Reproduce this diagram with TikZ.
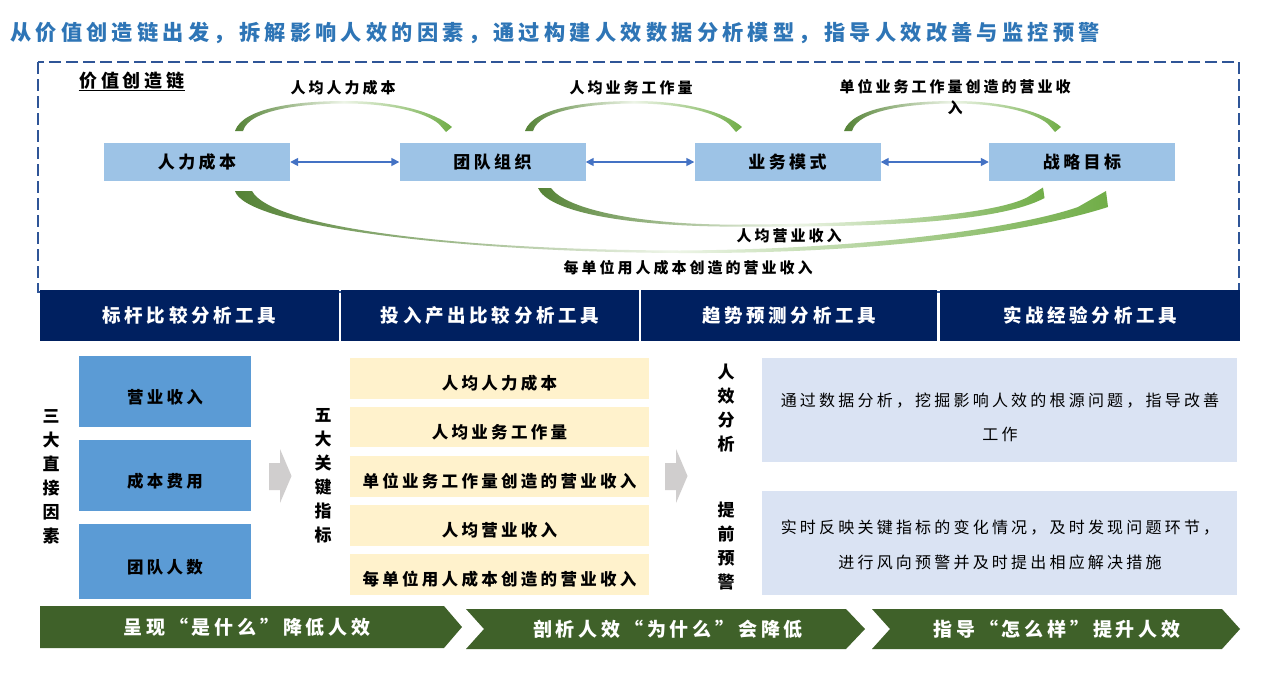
\documentclass[tikz,border=0pt]{standalone}
\usepackage{fontspec}
\usetikzlibrary{arrows.meta}
\setmainfont{Noto Sans CJK SC}[LetterSpace=20]
\newfontfamily\medfont{Noto Sans CJK SC Medium}[LetterSpace=20]
\newcommand{\fsz}[2]{\fontsize{#1}{#2}\selectfont}
\definecolor{titleblue}{HTML}{2E75B6}
\definecolor{framecol}{HTML}{2F5597}
\definecolor{topblue}{HTML}{9DC3E6}
\definecolor{arrowblue}{HTML}{4472C4}
\definecolor{navy}{HTML}{002060}
\definecolor{lblue}{HTML}{5B9BD5}
\definecolor{ycol}{HTML}{FFF2CC}
\definecolor{rcol}{HTML}{DAE3F3}
\definecolor{chevcol}{HTML}{3F6129}
\definecolor{grayarr}{HTML}{D0CECE}
\definecolor{gdark}{HTML}{548235}
\definecolor{glight}{HTML}{70AD47}
\definecolor{gpale}{HTML}{EEF5E8}
\newcommand{\greenarc}[1]{%
  \begin{scope}[xshift=#1pt]
    \shade[arcshade] (0,131) .. controls (8,107) and (65,101) .. (110,101)
      .. controls (160,101) and (200,112) .. (217,127) -- (211,132) -- (204,124)
      .. controls (190,112) and (155,103.5) .. (110,103.5)
      .. controls (70,103.5) and (14,109) .. (8,131) -- cycle;
  \end{scope}}
\begin{document}
\begin{tikzpicture}[x=1pt,y=-1pt,
  arcshade/.style={left color=gdark, right color=glight, middle color=gpale},
  topbox/.style={fill=topblue, minimum width=186pt, minimum height=38pt, inner sep=0pt, font=\bfseries\fsz{17}{20}},
  dblarrow/.style={{Triangle[length=8pt,width=8pt]}-{Triangle[length=8pt,width=8pt]}, draw=arrowblue, line width=1.6pt},
  lbl/.style={font=\bfseries\fsz{15}{18}, inner sep=0pt},
  hdr/.style={fill=navy, text=white, minimum height=51pt, inner sep=0pt, font=\bfseries\fsz{18.5}{20}},
  lbox/.style={fill=lblue, minimum width=172pt, inner sep=0pt},
  ybox/.style={fill=ycol, minimum width=299pt, inner sep=0pt},
  rbox/.style={fill=rcol, minimum width=475pt, minimum height=104pt, inner sep=0pt},
  boxtxt/.style={font=\bfseries\fsz{16.5}{20}, inner sep=0pt},
  vtxt/.style={align=center, font=\bfseries\fsz{17}{24}, inner sep=0pt},
  rtxt/.style={align=center, inner sep=0pt},
  grayshape/.style={fill=grayarr},
  chev/.style={fill=chevcol},
  chevtxt/.style={text=white, font=\bfseries\fsz{19}{22}, inner sep=0pt}
]
\fill[white] (0,0) rectangle (1283,678);
\useasboundingbox (0,0) rectangle (1283,678);

% title
\node[anchor=west, inner sep=0pt, text=titleblue, font=\bfseries\fsz{21.2}{24}] (title) at (10,33) {从价值创造链出发，拆解影响人效的因素，通过构建人效数据分析模型，指导人效改善与监控预警};

% dashed frame
\draw[framecol, line width=1.4pt, dash pattern=on 12pt off 5pt] (38,62) rectangle (1239,292);

\node[font=\bfseries\fsz{18}{20}, inner sep=1pt] (vc) at (132,81) {价值创造链};
\draw[line width=0.8pt] (vc.south west) -- (vc.south east);

% top boxes
\node[topbox] (b1) at (197,162) {人力成本};
\node[topbox] (b2) at (492.5,162) {团队组织};
\node[topbox] (b3) at (787.5,162) {业务模式};
\node[topbox] (b4) at (1082,162) {战略目标};
\draw[dblarrow] (b1) -- (b2);
\draw[dblarrow] (b2) -- (b3);
\draw[dblarrow] (b3) -- (b4);

% top green arcs
\greenarc{235}
\greenarc{525}
\greenarc{844}
\node[lbl] (t1) at (343,88) {人均人力成本};
\node[lbl] (t2) at (631,88) {人均业务工作量};
\node[lbl] (t3) at (955,87) {单位业务工作量创造的营业收};
\node[lbl] (t3b) at (955,108) {入};

% bottom green arcs
\shade[arcshade] (538,188) .. controls (548,211) and (620,225) .. (720,226.5)
  .. controls (880,228) and (1000,222) .. (1044.5,198) -- (1043,187.5) -- (1027,197.5)
  .. controls (995,214) and (880,225) .. (720,224.5)
  .. controls (630,223) and (565,208) .. (551,188) -- cycle;
\shade[arcshade] (235,191) .. controls (245,225) and (450,252) .. (680,253)
  .. controls (880,254) and (1030,232) .. (1108,207) -- (1106,191) -- (1078,207)
  .. controls (1030,224) and (890,249) .. (680,250.5)
  .. controls (460,250) and (272,228) .. (252,191) -- cycle;
\node[lbl] (t4) at (789,236) {人均营业收入};
\node[lbl] (t5) at (688,268) {每单位用人成本创造的营业收入};

% header bar
\node[hdr, minimum width=299pt] (h1) at (189.5,315.5) {标杆比较分析工具};
\node[hdr, minimum width=298pt] (h2) at (490,315.5) {投入产出比较分析工具};
\node[hdr, minimum width=296pt] (h3) at (789,315.5) {趋势预测分析工具};
\node[hdr, minimum width=300pt] (h4) at (1090,315.5) {实战经验分析工具};

% left column
\node[vtxt] (v1) at (51,477) {三\\大\\直\\接\\因\\素};
\node[lbox, minimum height=71pt] (l1) at (165,391.5) {};
\node[lbox, minimum height=71pt] (l2) at (165,475.5) {};
\node[lbox, minimum height=75pt] (l3) at (165,561.5) {};
\node[boxtxt] (l1t) at ([yshift=-6pt]l1.center) {营业收入};
\node[boxtxt] (l2t) at ([yshift=-6pt]l2.center) {成本费用};
\node[boxtxt] (l3t) at ([yshift=-6pt]l3.center) {团队人数};

% gray arrows
\fill[grayshape] (269,463) -- (280,463) -- (280,449) -- (291.5,476) -- (280,503) -- (280,490) -- (269,490) -- cycle;
\fill[grayshape] (665,463) -- (676,463) -- (676,449) -- (687.5,476) -- (676,503) -- (676,490) -- (665,490) -- cycle;

% middle column
\node[vtxt] (v2) at (323,476) {五\\大\\关\\键\\指\\标};
\node[ybox, minimum height=41pt] (y1) at (499.5,378.5) {};
\node[ybox, minimum height=40pt] (y2) at (499.5,427) {};
\node[ybox, minimum height=41pt] (y3) at (499.5,476.5) {};
\node[ybox, minimum height=41pt] (y4) at (499.5,525.5) {};
\node[ybox, minimum height=41pt] (y5) at (499.5,574.5) {};
\node[boxtxt] (y1t) at ([yshift=-5pt]y1.center) {人均人力成本};
\node[boxtxt] (y2t) at ([yshift=-5pt]y2.center) {人均业务工作量};
\node[boxtxt] (y3t) at ([yshift=-5pt]y3.center) {单位业务工作量创造的营业收入};
\node[boxtxt] (y4t) at ([yshift=-5pt]y4.center) {人均营业收入};
\node[boxtxt] (y5t) at ([yshift=-5pt]y5.center) {每单位用人成本创造的营业收入};

% right column
\node[vtxt] (v3) at (726,408) {人\\效\\分\\析};
\node[vtxt] (v4) at (726,546) {提\\前\\预\\警};
\node[rbox] (r1) at (999.5,410) {};
\node[rbox] (r2) at (999.5,543) {};
\node[rtxt, font=\fsz{16}{34}] (r1t) at (1000,417) {通过数据分析，挖掘影响人效的根源问题，指导改善\\工作};
\node[rtxt, font=\fsz{16}{35}] (r2t) at (1000,544.5) {实时反映关键指标的变化情况，及时发现问题环节，\\进行风向预警并及时提出相应解决措施};

% bottom chevrons
\fill[chev] (40,606) -- (444,606) -- (462,627) -- (444,648) -- (40,648) -- cycle;
\fill[chev] (466,609) -- (846,609) -- (865,629) -- (846,649) -- (466,649) -- (484,629) -- cycle;
\fill[chev] (872,609) -- (1222,609) -- (1240,629) -- (1222,649) -- (872,649) -- (890,629) -- cycle;
\node[chevtxt] (c1) at (247,627) {呈现“是什么”降低人效};
\node[chevtxt] (c2) at (668,629) {剖析人效“为什么”会降低};
\node[chevtxt] (c3) at (1057,629) {指导“怎么样”提升人效};
\end{tikzpicture}
\end{document}
